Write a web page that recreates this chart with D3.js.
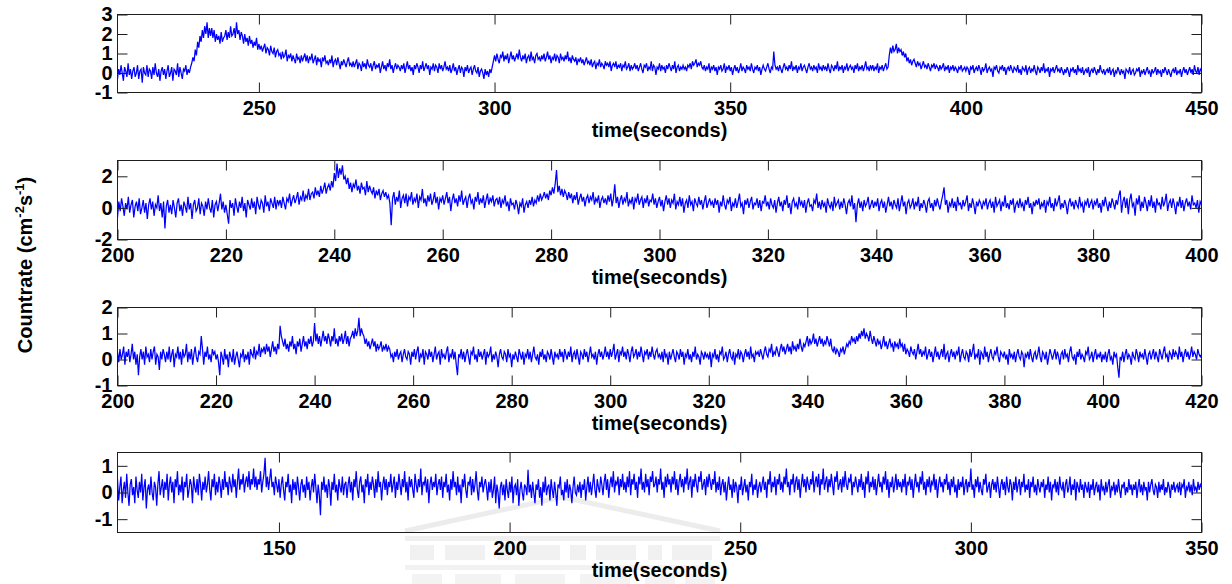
<!DOCTYPE html>
<html>
<head>
<meta charset="utf-8">
<script src="https://cdn.jsdelivr.net/npm/d3@7"></script>
<style>
  html, body { margin: 0; padding: 0; background: #fff; }
  svg { display: block; font-family: "Liberation Sans", Arial, Helvetica, sans-serif; }
</style>
</head>
<body>
<svg id="chart" width="1232" height="584"></svg>
<script>
// ---------- light curves (count rate, cm^-2 s^-1), sampled every 0.25 s ----------

// Event 1: 220 s .. 450 s
const start1 = 220, step1 = 0.25;
const rate1 = [
  -0.3,0.2,-0.1,0.4,0.0,-0.4,0.3,0.1,-0.2,0.5,-0.1,0.2,-0.3,0.1,0.3,-0.2,0.0,0.4,-0.3,0.1,0.2,-0.5,0.3,0.0,-0.1,0.4,-0.2,0.2,0.1,-0.3,0.3,-0.1,0.5,0.0,-0.2,0.2,-0.4,0.1,0.3,-0.1,
  0.2,-0.3,0.1,0.4,-0.2,0.0,0.3,-0.4,0.2,0.1,-0.1,0.5,-0.2,0.3,0.0,-0.3,0.2,0.1,0.4,-0.1,0.2,0.0,0.3,0.5,0.8,0.6,1.2,0.9,1.6,1.3,1.9,1.6,2.2,1.8,2.4,2.0,2.6,1.8,2.3,1.9,
  2.3,1.8,2.2,1.6,2.0,1.7,1.9,1.5,2.1,1.6,1.8,1.9,2.2,1.7,2.1,1.8,2.4,1.9,2.0,2.3,1.8,2.6,2.0,2.2,1.7,2.1,1.9,1.5,2.0,1.6,1.8,1.4,1.9,1.5,1.7,1.3,1.6,1.4,1.8,1.2,
  1.5,1.2,1.4,1.1,1.3,1.5,1.0,1.3,1.2,0.9,1.4,1.1,1.0,1.3,0.8,1.1,1.2,0.9,1.0,0.7,1.1,0.8,0.9,1.2,0.6,0.9,0.8,1.0,0.6,0.9,0.7,0.5,1.0,0.7,0.8,0.5,0.9,0.6,0.8,1.0,
  0.6,0.9,0.5,0.8,0.7,1.0,0.5,0.7,0.9,0.4,0.8,0.6,0.7,0.3,0.8,0.6,0.9,0.5,0.6,0.4,0.7,0.5,0.9,0.3,0.6,0.7,0.4,0.8,0.5,0.2,0.6,0.4,0.7,0.5,0.3,0.6,0.8,0.4,0.5,0.3,
  0.6,0.3,0.5,0.7,0.2,0.5,0.4,0.1,0.6,0.3,0.5,0.2,0.7,0.4,0.3,0.5,0.1,0.4,0.6,0.2,0.4,0.3,0.5,0.0,0.3,0.6,0.2,0.4,0.1,0.5,0.3,0.7,0.2,0.4,0.0,0.3,0.5,0.2,0.4,0.3,
  0.1,0.4,0.2,0.5,0.0,0.3,0.6,0.2,0.4,0.1,0.3,-0.1,0.4,0.2,0.5,0.3,0.0,0.4,0.2,0.6,0.1,0.3,0.5,0.2,0.4,-0.1,0.3,0.2,0.5,0.1,0.4,0.3,0.0,0.5,0.2,0.4,0.1,0.3,0.6,0.2,
  0.3,0.1,0.4,0.0,0.2,0.5,0.1,0.3,-0.1,0.2,0.4,0.0,0.3,0.2,-0.2,0.3,0.1,0.4,0.0,0.2,0.3,-0.1,0.2,0.4,0.1,0.0,0.3,-0.2,0.1,0.2,0.0,-0.3,0.2,-0.1,0.1,-0.2,0.2,0.0,0.3,0.6,
  0.9,0.6,1.0,0.7,0.5,0.9,0.8,1.1,0.6,0.9,0.7,1.0,0.5,0.8,1.1,0.7,0.9,0.6,0.8,1.0,0.7,1.2,0.8,0.6,0.9,0.7,1.0,0.5,0.8,0.9,0.6,1.1,0.7,0.8,0.5,0.9,1.0,0.7,0.8,0.6,
  0.9,0.7,1.0,0.6,0.8,1.1,0.7,0.9,0.5,0.8,0.7,1.0,0.6,0.9,0.8,0.5,1.0,0.7,0.8,0.6,0.9,0.7,1.1,0.6,0.8,0.5,0.9,0.7,0.6,0.8,0.4,0.7,0.6,0.8,0.5,0.7,0.4,0.6,0.8,0.5,
  0.6,0.4,0.7,0.3,0.5,0.6,0.2,0.5,0.4,0.7,0.3,0.5,0.4,0.2,0.6,0.4,0.5,0.3,0.6,0.1,0.4,0.5,0.3,0.6,0.2,0.4,0.3,0.5,0.1,0.4,0.3,0.6,0.2,0.3,0.5,0.1,0.4,0.2,0.3,0.5,
  0.2,0.4,0.1,0.3,0.5,0.2,0.0,0.4,0.3,0.5,0.1,0.3,0.2,0.6,0.1,0.4,0.3,-0.1,0.3,0.2,0.5,0.1,0.4,0.2,0.3,0.0,0.4,0.2,0.5,0.3,0.1,0.4,0.2,0.6,0.0,0.3,0.4,0.1,0.3,0.2,
  0.4,0.2,0.3,0.1,0.4,0.3,0.5,0.2,0.6,0.4,0.5,0.7,0.3,0.5,0.4,0.6,0.3,0.2,0.4,0.1,0.3,0.2,0.5,0.0,0.3,0.2,0.4,0.1,0.3,-0.1,0.3,0.2,0.4,0.1,0.2,0.5,0.0,0.3,0.2,0.4,
  0.1,0.3,-0.1,0.2,0.4,0.1,0.3,0.0,0.2,0.5,0.1,0.3,0.2,0.0,0.4,0.2,0.3,0.1,0.5,0.2,0.0,0.3,0.2,0.4,0.1,0.3,-0.1,0.2,0.4,0.2,0.1,0.3,0.5,0.2,0.0,0.3,0.2,1.1,0.4,0.2,
  0.3,0.1,0.4,0.2,0.0,0.3,0.5,0.2,0.3,0.1,0.4,0.2,0.6,0.1,0.3,0.2,0.4,0.0,0.3,0.2,0.5,0.1,0.3,0.4,0.2,0.0,0.3,0.5,0.2,0.3,0.1,0.4,0.2,0.3,0.0,0.5,0.2,0.3,0.1,0.4,
  0.2,0.3,0.1,0.5,0.2,0.0,0.4,0.3,0.1,0.4,0.2,0.6,0.1,0.3,0.2,0.4,0.0,0.3,0.2,0.5,0.1,0.3,0.4,0.2,0.3,0.0,0.4,0.2,0.5,0.1,0.3,0.2,0.4,0.1,0.3,0.6,0.2,0.3,0.1,0.4,
  0.2,0.4,0.1,0.3,0.2,0.5,0.0,0.3,0.2,0.4,0.1,0.3,0.5,0.2,0.3,0.9,1.3,1.0,1.4,1.1,1.2,1.5,1.0,1.3,1.1,1.2,0.9,1.1,0.8,1.0,0.6,0.8,0.5,0.7,0.4,0.6,0.7,0.5,0.3,0.6,
  0.4,0.5,0.2,0.4,0.6,0.3,0.4,0.2,0.5,0.3,0.1,0.4,0.3,0.5,0.2,0.4,0.3,0.1,0.4,0.2,0.3,0.5,0.1,0.3,0.2,0.4,0.0,0.3,0.2,0.4,0.1,0.3,0.2,0.0,0.3,0.2,0.4,0.1,0.2,0.3,
  0.1,0.3,0.2,-0.1,0.3,0.2,0.4,0.0,0.2,0.3,0.1,0.4,0.2,-0.1,0.3,0.1,0.2,0.5,0.0,0.2,0.3,0.1,0.2,-0.2,0.3,0.2,0.4,0.1,0.0,0.3,0.2,0.4,0.1,0.3,-0.1,0.2,0.3,0.1,0.4,0.2,
  0.0,0.3,0.2,0.1,0.4,0.0,0.2,-0.1,0.3,0.2,0.1,0.4,-0.1,0.2,0.3,0.0,0.2,0.1,0.4,0.1,-0.1,0.3,0.2,0.0,0.3,0.1,0.5,0.0,0.2,0.1,0.3,-0.2,0.2,0.1,0.3,0.0,0.2,0.4,0.1,0.2,
  0.0,0.3,0.1,-0.1,0.2,0.0,0.3,0.1,-0.2,0.2,0.1,0.3,0.0,0.2,-0.1,0.4,0.1,0.2,0.0,0.3,-0.1,0.1,0.2,0.0,0.3,-0.2,0.1,0.2,0.0,0.3,0.1,-0.1,0.2,0.0,0.4,0.1,0.0,0.2,-0.1,0.1,
  0.2,0.0,0.3,-0.1,0.1,0.2,-0.2,0.1,0.0,0.3,0.1,-0.1,0.2,0.0,0.1,-0.3,0.2,0.1,0.0,0.3,-0.1,0.1,0.2,-0.1,0.0,0.2,0.1,0.3,-0.2,0.1,0.0,0.2,-0.1,0.1,0.3,0.0,0.1,-0.2,0.2,0.0,
  0.1,0.3,-0.1,0.2,0.0,0.1,-0.2,0.2,0.0,0.3,0.1,-0.1,0.2,0.0,-0.2,0.1,0.2,0.0,0.3,-0.1,0.1,0.0,0.2,-0.2,0.1,0.3,0.0,0.2,-0.1,0.1,0.3,0.0,0.2,-0.1,0.4,0.1,0.0,0.3,-0.1,0.2,
  0.1
];

// Event 2: 200 s .. 400 s
const start2 = 200, step2 = 0.25;
const rate2 = [
  -0.6,0.4,-0.2,0.6,0.1,-0.5,0.3,-0.1,0.7,-0.3,0.2,0.5,-0.6,0.1,0.4,-0.2,0.6,-0.4,0.0,0.5,-0.3,0.3,-0.7,0.2,0.6,-0.1,0.4,-0.5,0.2,0.0,0.8,-0.2,0.3,-0.6,0.4,-1.3,0.1,0.5,-0.3,0.2,
  -0.4,0.5,0.0,-0.6,0.3,0.6,-0.2,0.2,-0.5,0.4,0.1,-0.3,0.7,-0.1,0.3,-0.7,0.2,0.5,-0.2,0.0,0.6,-0.4,0.3,0.1,-0.5,0.4,-0.1,0.6,0.0,-0.3,0.5,-0.6,0.2,0.4,-0.2,0.3,0.9,-0.1,0.4,-0.3,
  0.2,-0.4,-1.0,0.5,0.0,0.3,-0.5,0.6,0.1,-0.3,0.4,0.0,0.7,-0.2,0.3,-0.6,0.5,0.2,-0.1,0.6,0.0,0.4,-0.4,0.7,0.2,-0.1,0.5,0.3,-0.3,0.8,0.1,0.4,-0.2,0.6,0.3,0.0,0.7,-0.1,0.5,0.2,
  0.5,0.0,0.7,0.3,-0.1,0.6,0.4,0.9,0.1,0.5,0.8,0.3,0.6,1.0,0.2,0.7,0.5,1.1,0.4,0.8,0.6,1.2,0.5,0.9,1.0,0.6,1.3,0.8,1.1,0.7,1.4,0.9,1.2,1.6,0.9,1.3,1.5,1.1,1.7,1.3,
  2.2,1.7,2.8,1.9,2.5,2.1,2.7,1.8,2.0,1.5,1.9,1.2,1.6,1.0,1.5,1.3,1.8,1.1,1.4,0.9,1.6,1.2,1.3,0.8,1.7,1.0,1.4,1.1,0.9,1.3,0.6,1.1,0.8,1.2,0.5,0.9,1.1,0.7,1.0,0.6,
  0.8,0.3,-1.1,0.6,1.0,0.2,0.7,0.4,1.1,0.0,0.6,0.8,0.3,0.9,0.1,0.7,0.5,1.0,0.2,0.6,0.4,0.9,0.0,0.7,0.5,1.2,0.3,0.6,0.1,0.8,0.4,0.9,0.2,0.5,1.0,0.3,0.7,-0.1,0.6,0.4,
  0.8,0.2,0.6,1.0,0.3,0.7,-0.2,0.5,0.9,0.3,0.6,0.1,0.8,0.4,1.1,0.2,0.5,0.7,0.0,0.6,0.9,0.3,0.5,-0.1,0.7,0.4,1.0,0.2,0.6,0.3,0.8,0.0,0.5,0.9,0.2,0.6,0.4,0.8,0.1,0.5,
  0.6,0.2,0.7,0.0,0.5,0.3,0.8,0.1,0.4,-0.2,0.6,0.2,0.3,-0.1,0.5,0.2,-0.4,0.3,0.1,0.6,-0.3,0.2,0.4,0.0,0.5,0.2,0.7,0.1,0.5,0.3,0.8,0.4,0.9,0.5,0.7,1.0,0.6,0.9,0.5,1.1,
  0.8,1.3,0.9,1.5,2.4,1.0,1.4,0.8,1.2,0.7,1.1,0.9,0.5,1.0,0.6,0.9,0.3,0.8,0.5,1.0,0.2,0.6,0.9,0.4,0.7,0.1,0.6,0.8,0.3,0.7,0.5,1.0,0.2,0.6,0.4,0.8,0.0,0.5,0.7,0.3,
  0.6,0.2,0.8,0.4,0.9,0.1,0.6,1.5,0.3,0.7,0.0,0.5,0.8,0.2,0.6,0.4,1.0,0.1,0.5,0.3,0.7,-0.1,0.6,0.4,0.9,0.2,0.5,0.7,0.0,0.6,0.3,0.8,0.1,0.5,0.4,0.9,0.2,0.6,0.0,0.4,
  0.7,0.1,0.5,-0.2,0.4,0.8,0.2,0.6,0.0,0.5,0.3,0.9,-0.1,0.4,0.2,0.7,0.1,0.6,-0.3,0.3,0.5,0.0,0.8,0.2,0.4,-0.2,0.6,0.3,0.1,0.7,0.2,0.5,-0.1,0.4,0.8,0.0,0.3,0.6,0.2,0.4,
  0.0,0.6,0.2,0.5,-0.3,0.4,0.1,0.8,0.2,-0.1,0.5,0.3,0.7,-0.2,0.3,0.1,0.6,0.0,0.4,0.9,0.1,0.3,-0.4,0.5,0.2,0.6,0.0,0.4,0.7,-0.1,0.3,0.2,0.6,0.0,0.5,-0.2,0.4,0.3,0.8,0.1,
  0.4,-0.1,0.6,0.2,0.0,0.5,-0.3,0.3,0.7,0.1,0.4,-0.2,0.5,0.2,0.8,0.0,0.3,-0.4,0.4,0.6,0.1,0.3,-0.1,0.7,0.2,0.4,0.0,0.5,-0.3,0.3,0.6,0.1,0.2,-0.2,0.5,0.3,0.9,0.0,0.4,-0.1,
  0.5,0.1,0.3,-0.3,0.6,0.2,0.0,0.4,-0.2,0.7,0.1,0.3,0.5,-0.1,0.4,0.0,0.6,0.2,-0.4,0.3,0.5,0.1,0.8,-0.1,0.3,-0.9,0.2,0.6,0.0,0.4,-0.2,0.5,0.1,0.3,0.7,-0.1,0.2,0.5,0.0,0.4,
  0.1,0.6,-0.2,0.3,0.5,0.0,0.4,-0.3,0.2,0.7,0.1,0.4,-0.1,0.5,0.2,0.0,0.6,-0.2,0.3,0.8,0.1,0.4,-0.4,0.3,0.5,0.0,0.2,0.6,-0.1,0.4,0.1,0.7,-0.2,0.3,0.0,0.5,0.2,-0.3,0.4,0.6,
  0.0,0.3,-0.2,0.5,0.1,0.6,0.2,-0.1,0.4,0.8,1.3,0.2,0.5,-0.3,0.3,0.1,0.6,0.0,0.4,-0.2,0.7,0.2,0.3,-0.1,0.5,0.1,0.4,0.8,-0.2,0.3,0.0,0.6,0.2,-0.4,0.4,0.1,0.5,0.3,-0.1,0.4,
  0.2,0.6,-0.1,0.3,0.5,0.0,0.4,-0.3,0.7,0.1,0.3,0.5,-0.2,0.4,0.1,0.8,0.0,0.3,-0.1,0.5,0.2,0.6,-0.3,0.2,0.4,0.0,0.6,0.1,0.3,-0.2,0.5,0.2,0.7,0.0,0.3,-0.4,0.4,0.1,0.5,0.2,
  0.6,-0.1,0.3,0.1,0.5,-0.3,0.4,0.2,0.7,0.0,0.3,-0.2,0.6,0.1,0.4,0.8,-0.1,0.3,0.0,0.5,0.2,-0.4,0.3,0.6,0.1,0.4,-0.1,0.5,0.2,0.0,0.7,0.1,0.3,-0.3,0.4,0.2,0.6,0.0,0.3,0.5,
  -0.1,0.4,0.2,0.6,0.0,0.3,-0.3,0.5,0.1,0.7,0.2,-0.2,0.4,0.0,0.6,0.3,-0.1,0.5,0.2,0.8,1.1,-0.3,0.4,0.7,0.0,0.6,-0.4,0.5,0.9,0.1,0.3,-0.5,0.6,0.2,0.8,-0.2,0.4,0.0,0.7,0.3,
  -0.2,0.5,0.1,0.8,0.0,0.4,-0.3,0.6,0.2,0.3,-0.1,0.7,0.1,0.4,0.9,-0.2,0.3,0.5,0.0,0.6,0.2,-0.4,0.4,0.1,0.7,0.0,0.5,-0.2,0.3,0.6,0.1,0.4,-0.1,0.8,0.2,0.3,0.0,0.5,-0.3,0.4,
  0.2
];

// Event 3: 200 s .. 420 s
const start3 = 200, step3 = 0.25;
const rate3 = [
  0.3,-0.1,0.4,0.0,0.2,0.5,-0.2,0.3,0.1,0.4,-0.1,0.2,0.6,0.0,0.3,-0.2,0.2,-0.6,0.1,0.4,0.0,0.3,-0.2,0.5,0.1,0.2,-0.1,0.4,0.0,0.3,0.5,-0.2,0.2,0.1,-0.4,0.3,0.0,0.4,0.2,-0.1,
  0.3,0.0,0.5,-0.1,0.2,0.4,-0.3,0.2,0.1,0.5,0.0,0.3,-0.2,0.4,0.1,0.2,0.6,-0.1,0.3,0.0,0.4,-0.2,0.2,0.5,0.1,-0.1,0.3,0.2,0.9,0.4,-0.2,0.3,0.1,0.5,0.0,0.2,-0.1,0.4,0.2,0.3,
  0.0,0.2,-0.1,-0.6,0.3,0.1,-0.2,0.4,0.0,0.2,-0.3,0.3,0.1,-0.1,0.4,-0.2,0.1,0.3,0.0,-0.3,0.2,0.1,0.4,-0.1,0.2,0.0,0.3,-0.2,0.4,0.2,0.1,0.5,0.0,0.3,0.2,0.6,0.1,0.4,0.3,0.5,
  0.2,0.6,0.3,0.5,0.1,0.4,0.7,0.3,0.5,0.2,0.6,0.4,1.3,0.9,0.7,0.5,0.8,0.4,0.6,0.3,0.7,0.5,0.9,0.4,0.6,0.2,0.7,0.5,0.8,0.3,0.6,0.9,0.5,0.7,0.4,0.8,0.6,0.9,0.5,0.7,
  1.4,0.7,1.0,0.6,0.9,0.5,0.8,1.1,0.7,0.9,0.6,1.0,0.8,0.5,0.9,0.7,1.2,0.6,0.8,0.5,0.9,0.7,1.0,0.6,0.8,1.1,0.6,0.9,0.5,0.8,0.9,1.1,0.8,1.2,0.9,1.1,1.6,0.9,1.2,1.0,
  0.9,0.6,0.8,0.5,0.7,0.4,0.6,0.8,0.5,0.7,0.3,0.6,0.4,0.5,0.7,0.3,0.5,0.4,0.6,0.3,0.5,0.4,0.1,0.2,-0.1,0.3,0.1,0.4,0.0,0.2,0.3,-0.1,0.2,0.4,0.1,0.0,0.3,0.2,-0.2,0.3,
  0.1,0.4,0.0,0.3,0.5,-0.1,0.2,0.1,0.4,-0.2,0.3,0.2,0.0,0.4,0.1,0.3,-0.1,0.2,0.5,0.0,0.2,0.3,-0.2,0.4,0.1,0.2,0.0,0.3,0.5,-0.1,0.2,0.1,0.4,0.0,0.3,-0.2,-0.6,0.2,0.1,0.4,
  0.0,0.3,-0.1,0.2,0.4,0.1,-0.2,0.3,0.2,0.5,0.0,0.2,-0.1,0.4,0.1,0.3,0.0,0.2,0.4,-0.2,0.3,0.1,0.2,0.5,-0.1,0.2,0.0,0.3,0.1,-0.3,0.2,0.4,0.1,0.0,0.3,0.2,-0.1,0.4,0.1,0.2,
  -0.3,0.2,0.0,0.3,0.1,-0.1,0.4,0.2,0.0,0.3,-0.2,0.2,0.1,0.4,0.0,0.3,-0.1,0.2,0.5,0.1,0.0,0.2,-0.2,0.3,0.1,0.4,0.0,0.2,-0.1,0.3,0.2,0.0,0.4,0.1,-0.2,0.3,0.1,0.2,0.0,0.4,
  0.1,0.3,-0.1,0.4,0.2,0.0,0.3,0.1,0.5,-0.1,0.2,0.3,0.0,0.4,0.1,-0.2,0.3,0.2,0.0,0.4,0.1,0.3,-0.1,0.2,0.5,0.1,0.2,0.0,0.3,-0.2,0.2,0.4,0.1,0.3,0.0,0.2,0.5,0.1,0.3,0.0,
  0.4,0.1,0.3,0.6,0.0,0.2,0.4,-0.1,0.3,0.2,0.5,0.1,0.3,0.0,0.4,0.2,-0.1,0.3,0.5,0.1,0.2,0.4,0.0,0.3,0.1,0.5,0.2,-0.1,0.3,0.2,0.4,0.0,0.3,0.1,0.5,0.2,0.0,0.3,0.4,0.1,
  0.2,0.0,0.3,-0.1,0.4,0.1,0.2,-0.2,0.3,0.0,0.2,0.4,0.1,-0.1,0.3,0.2,0.0,0.4,0.1,0.3,-0.2,0.2,0.1,0.4,0.0,0.2,-0.1,0.3,0.1,0.5,0.0,0.2,0.1,-0.2,0.3,0.2,0.0,0.3,0.1,0.2,
  0.0,0.3,-0.3,0.2,0.1,0.4,0.0,0.2,-0.1,0.3,0.2,0.5,0.0,0.1,0.3,-0.1,0.2,0.4,0.1,0.0,0.3,-0.2,0.2,0.1,0.4,0.0,0.3,0.2,-0.1,0.2,0.4,0.1,0.3,0.0,0.5,0.1,0.2,-0.1,0.3,0.2,
  0.3,0.1,0.4,0.2,0.0,0.3,0.5,0.2,0.1,0.4,0.3,0.6,0.1,0.3,0.2,0.5,0.3,0.1,0.4,0.6,0.3,0.5,0.2,0.4,0.6,0.3,0.5,0.2,0.7,0.4,0.5,0.3,0.6,0.4,0.8,0.5,0.3,0.6,0.5,0.7,
  0.9,0.5,0.8,0.6,0.7,1.0,0.6,0.8,0.5,0.7,0.9,0.6,0.8,0.5,0.7,0.6,0.9,0.7,0.5,0.8,0.4,0.3,0.5,0.2,0.4,0.3,0.1,0.4,0.3,0.5,0.2,0.4,0.6,0.5,0.7,0.6,0.9,0.7,0.8,0.6,
  0.9,0.7,1.0,0.8,1.1,0.9,1.2,0.8,1.0,0.9,0.7,1.1,0.8,0.6,0.9,0.7,0.5,0.8,0.6,0.7,0.4,0.6,0.9,0.5,0.7,0.4,0.6,0.8,0.5,0.6,0.3,0.7,0.5,0.6,0.4,0.8,0.5,0.6,0.3,0.6,
  0.2,0.4,0.3,0.1,0.5,0.3,0.2,0.4,0.0,0.3,0.6,0.2,0.4,0.1,0.3,0.2,0.5,0.0,0.2,0.4,0.1,0.3,-0.1,0.2,0.5,0.1,0.3,0.0,0.2,0.4,0.1,0.6,0.0,0.2,0.3,-0.1,0.2,0.4,0.1,0.3,
  0.0,0.3,0.2,0.5,-0.1,0.2,0.4,0.1,0.0,0.3,0.2,-0.1,0.4,0.1,0.3,0.6,0.0,0.2,0.1,0.4,-0.2,0.3,0.2,0.0,0.5,0.1,0.3,-0.1,0.2,0.4,0.1,0.0,0.3,0.2,0.5,0.1,-0.1,0.3,0.2,0.1,
  0.3,0.0,0.2,-0.2,0.4,0.1,0.2,0.0,0.3,-0.1,0.2,0.4,0.1,0.0,0.3,0.2,-0.3,0.2,0.1,0.3,0.0,0.4,0.1,-0.1,0.2,0.3,0.0,0.2,0.5,0.1,-0.1,0.3,0.2,0.0,0.3,-0.2,0.1,0.4,0.2,0.0,
  0.2,0.4,0.0,0.3,0.1,-0.2,0.2,0.3,0.0,0.4,0.1,0.2,-0.1,0.3,0.5,0.1,0.0,0.2,-0.2,0.3,0.1,0.4,0.0,0.2,0.1,-0.1,0.3,0.2,0.5,0.0,0.1,0.3,-0.1,0.2,0.4,0.0,0.2,0.1,0.3,-0.1,
  0.2,0.0,0.3,-0.1,0.2,0.4,0.0,0.1,-0.2,0.3,0.1,0.2,-0.3,-0.7,0.1,0.0,0.3,-0.1,0.2,0.4,0.0,0.2,0.1,-0.2,0.3,0.1,0.0,0.4,0.2,-0.1,0.3,0.1,0.2,0.0,0.4,0.1,-0.2,0.2,0.3,0.0,
  0.2,0.4,0.0,0.3,0.1,-0.1,0.4,0.2,0.0,0.3,0.5,0.1,0.2,-0.1,0.3,0.2,0.0,0.4,0.1,0.3,0.2,0.0,0.5,0.1,0.3,-0.1,0.2,0.4,0.1,0.3,0.0,0.2,0.5,0.1,0.3,0.2,0.0,0.4,0.2,0.1,
  0.2
];

// Event 4: 115 s .. 350 s
const start4 = 115, step4 = 0.25;
const rate4 = [
  0.5,-0.3,0.2,0.6,-0.4,0.1,0.4,-0.2,0.7,0.0,-0.5,0.3,0.5,-0.1,0.2,-0.4,0.6,0.1,-0.2,0.4,0.0,0.7,-0.3,0.2,0.5,-0.6,0.1,0.3,-0.1,0.6,0.0,-0.3,0.4,0.2,-0.5,0.3,0.8,-0.1,0.2,0.5,
  -0.2,0.4,0.1,0.7,-0.3,0.3,0.6,0.0,0.4,-0.4,0.5,0.2,0.8,-0.1,0.3,0.0,0.6,-0.3,0.4,0.2,0.7,-0.2,0.1,0.5,0.3,-0.4,0.6,0.2,0.0,0.5,-0.1,0.7,0.3,-0.3,0.4,0.1,0.6,0.0,0.3,0.8,
  0.1,-0.3,0.5,0.2,0.7,-0.1,0.4,0.0,0.6,0.3,-0.2,0.5,0.1,0.8,0.2,0.4,-0.1,0.6,0.3,0.0,0.7,0.2,0.5,-0.2,0.4,0.9,0.1,0.5,0.3,0.7,0.0,0.4,0.6,0.2,0.8,0.1,0.5,0.3,0.9,0.2,
  0.6,0.1,0.5,0.3,0.8,0.0,0.4,0.7,1.3,0.2,0.6,0.1,0.5,0.9,0.2,0.4,-0.1,0.6,0.3,0.0,0.5,-0.2,0.3,0.6,0.1,-0.3,0.4,0.2,0.7,0.0,0.3,-0.4,0.5,0.1,0.4,-0.1,0.6,0.2,-0.3,0.3,
  0.5,0.0,0.3,-0.2,0.6,0.1,0.4,-0.3,0.2,0.5,0.0,0.7,0.2,-0.4,0.3,-0.1,-0.85,0.4,0.1,0.6,0.0,0.3,-0.2,0.5,0.2,-0.5,0.4,0.1,0.7,0.0,0.3,-0.3,0.5,0.2,0.0,0.6,-0.1,0.3,0.4,-0.2,
  0.3,0.6,0.0,0.4,-0.3,0.5,0.2,0.8,0.1,-0.2,0.4,0.6,0.0,0.3,-0.4,0.5,0.2,0.7,-0.1,0.4,0.1,0.6,0.3,-0.2,0.5,0.0,0.8,0.2,0.4,-0.3,0.3,0.6,0.1,0.5,-0.1,0.4,0.2,0.7,0.0,0.3,
  0.6,-0.2,0.4,0.1,0.7,0.3,-0.1,0.5,0.2,0.8,0.0,0.4,-0.3,0.6,0.2,0.5,0.1,-0.2,0.7,0.3,0.0,0.5,0.2,0.9,-0.1,0.4,0.3,0.6,0.0,0.5,-0.4,0.3,0.6,0.1,0.4,0.2,0.7,-0.1,0.3,0.5,
  0.1,0.6,-0.2,0.4,0.2,0.7,0.0,0.3,-0.3,0.5,0.1,0.8,0.2,0.4,-0.1,0.6,0.0,0.3,-0.4,0.5,0.2,0.7,0.1,-0.2,0.4,0.3,0.6,-0.1,0.5,0.0,0.3,0.8,0.1,-0.3,0.4,0.2,0.6,0.0,0.3,0.5,
  0.2,-0.3,0.4,0.0,0.5,-0.2,0.1,0.6,-0.4,0.3,0.0,-0.6,0.2,0.4,-0.1,0.3,-0.3,0.5,0.1,-0.2,0.4,0.0,0.6,-0.4,0.2,0.3,-0.1,0.5,-0.5,0.1,0.4,0.0,-0.3,0.3,0.2,-0.1,0.85,0.0,0.3,-0.2,
  0.4,0.0,-0.4,0.3,0.1,0.5,-0.2,0.2,-0.5,0.4,0.0,0.6,-0.1,0.2,0.3,-0.3,0.5,0.1,-0.2,0.4,0.0,-0.5,0.3,0.2,0.6,-0.1,0.1,-0.3,0.4,0.0,0.5,-0.2,0.3,0.1,-0.4,0.2,0.6,0.0,-0.1,0.3,
  0.0,0.4,-0.2,0.3,0.1,0.5,-0.3,0.2,0.6,0.0,0.4,-0.1,0.3,0.7,0.1,-0.2,0.5,0.2,0.0,0.6,0.3,-0.1,0.4,0.7,0.1,0.5,-0.2,0.3,0.6,0.2,0.8,0.0,0.4,0.3,0.6,-0.1,0.5,0.2,0.7,0.1,
  0.4,0.0,0.6,0.2,0.8,-0.1,0.5,0.3,0.7,0.1,0.4,-0.2,0.6,0.3,0.9,0.1,0.4,0.0,0.7,0.2,0.5,-0.1,0.6,0.4,0.8,0.2,0.3,0.6,0.0,0.5,0.3,0.9,0.1,0.4,-0.2,0.6,0.2,0.7,0.3,0.5,
  0.0,0.6,0.3,0.8,0.1,0.5,-0.1,0.4,0.7,0.2,0.5,0.0,0.6,0.3,0.9,0.1,0.4,0.6,-0.2,0.5,0.2,0.7,0.3,0.0,0.6,0.4,0.8,0.1,0.3,0.5,-0.1,0.6,0.2,0.7,0.4,0.1,0.5,0.3,0.8,0.0,
  0.4,0.1,0.6,-0.1,0.3,0.5,0.0,0.4,-0.3,0.2,0.6,0.1,0.3,-0.2,0.5,0.0,0.4,0.2,-0.4,0.3,0.1,0.6,-0.1,0.2,0.5,0.0,0.3,-0.3,0.4,0.2,0.7,-0.1,0.3,0.1,0.5,-0.2,0.2,0.4,0.0,0.3,
  0.6,0.1,0.4,-0.2,0.5,0.3,0.8,0.0,0.4,0.2,0.6,-0.1,0.5,0.3,0.7,0.1,0.4,0.0,0.6,0.3,0.9,0.2,0.4,-0.1,0.5,0.3,0.7,0.0,0.4,0.6,0.1,0.5,-0.2,0.3,0.7,0.2,0.5,0.0,0.6,0.3,
  0.1,0.5,0.3,0.8,0.0,0.4,0.6,0.2,0.7,-0.1,0.5,0.3,0.9,0.1,0.4,0.6,0.0,0.5,0.2,0.7,0.3,-0.1,0.6,0.4,0.8,0.1,0.3,0.5,0.0,0.6,0.2,0.8,0.3,0.1,0.5,0.4,0.7,-0.1,0.4,0.2,
  0.6,0.3,0.0,0.5,0.2,0.7,0.1,0.4,-0.2,0.6,0.3,0.8,0.0,0.4,0.2,0.6,0.1,0.5,-0.1,0.3,0.7,0.2,0.4,0.0,0.6,0.3,0.8,0.1,0.5,-0.2,0.4,0.2,0.6,0.0,0.3,0.7,0.1,0.5,0.2,0.4,
  0.0,0.5,0.2,0.7,-0.1,0.4,0.3,0.6,0.1,0.5,-0.2,0.3,0.7,0.2,0.4,0.0,0.6,0.3,0.8,0.1,0.4,-0.1,0.5,0.2,0.6,0.0,0.4,0.3,0.7,0.1,0.5,-0.2,0.3,0.6,0.2,0.4,0.0,0.5,0.3,0.7,
  0.1,0.4,-0.1,0.5,0.2,0.6,0.0,0.3,-0.2,0.5,0.1,0.4,0.2,0.6,-0.1,0.3,0.5,0.0,0.4,0.2,0.9,0.1,0.3,-0.2,0.5,0.2,0.6,0.0,0.4,0.1,-0.1,0.5,0.3,0.7,0.0,0.2,0.4,-0.2,0.3,0.5,
  0.1,0.4,0.0,0.6,0.2,-0.2,0.3,0.5,0.1,0.4,-0.1,0.6,0.2,0.0,0.5,0.3,-0.3,0.4,0.1,0.6,0.0,0.3,0.5,-0.1,0.4,0.2,0.7,0.0,0.3,0.1,0.5,-0.2,0.4,0.2,0.6,0.0,0.3,-0.1,0.5,0.2,
  0.0,0.4,0.2,0.5,-0.2,0.3,0.1,0.6,0.0,0.4,-0.3,0.3,0.2,0.5,0.0,0.4,-0.1,0.6,0.2,0.1,0.4,-0.2,0.3,0.5,0.0,0.2,0.6,-0.1,0.3,0.1,0.5,-0.3,0.4,0.2,0.0,0.5,0.1,0.3,-0.2,0.4,
  0.2,0.0,0.4,-0.2,0.3,0.1,0.5,-0.1,0.2,0.4,0.0,0.3,-0.3,0.5,0.1,0.2,-0.1,0.4,0.0,0.3,0.5,-0.2,0.2,0.1,0.4,-0.1,0.3,0.0,0.5,0.1,-0.2,0.3,0.2,0.4,-0.1,0.2,0.0,0.5,0.1,0.3,
  -0.1,0.3,0.1,0.4,-0.2,0.2,0.5,0.0,0.3,-0.1,0.4,0.1,0.2,-0.3,0.4,0.0,0.3,0.5,0.1,-0.1,0.3,0.2,-0.2,0.4,0.0,0.3,0.1,0.5,-0.1,0.2,0.0,0.4,0.2,-0.2,0.3,0.1,0.4,0.0,0.2,0.3,
  0.0,0.4,-0.1,0.3,0.2,0.5,-0.2,0.2,0.1,0.4,0.0,0.3,-0.1,0.5,0.1,0.2,0.0,0.4,0.1,0.3,
  0.2
];

// ---------- axis ranges and ticks ----------
const xDomain1 = [220, 450], yDomain1 = [-1, 3];
const xDomain2 = [200, 400], yDomain2 = [-2, 3];
const xDomain3 = [200, 420], yDomain3 = [-1, 2];
const xDomain4 = [115, 350], yDomain4 = [-1.5, 1.5];

const xTicks1 = [250, 300, 350, 400, 450];
const xTicks2 = [200, 220, 240, 260, 280, 300, 320, 340, 360, 380, 400];
const xTicks3 = [200, 220, 240, 260, 280, 300, 320, 340, 360, 380, 400, 420];
const xTicks4 = [150, 200, 250, 300, 350];

const yTicks1 = [-1, 0, 1, 2, 3];
const yTicks2 = [-2, 0, 2];
const yTicks3 = [-1, 0, 1, 2];
const yTicks4 = [-1, 0, 1];

const xTitle = "time(seconds)";

// ---------- layout ----------
const svg = d3.select("#chart");
const plotLeft = 117, plotRight = 1201;
const plotW = plotRight - plotLeft;
const frames = [
  { top: 14,  h: 78 },
  { top: 160, h: 79 },
  { top: 307, h: 78 },
  { top: 452, h: 80 }
];
const FONT = '"Liberation Sans", Arial, Helvetica, sans-serif';
const INK = "#1e1e1e";

// faint crest in the page background
const crest = svg.append("g").attr("class", "crest").attr("opacity", 0.45);
crest.append("path")
  .attr("d", "M405,531 L562,497 L720,531")
  .attr("fill", "none").attr("stroke", "#d6d6d6").attr("stroke-width", 5);
crest.append("rect").attr("x", 405).attr("y", 536).attr("width", 315).attr("height", 5).attr("fill", "#dedede");
[[410, 24], [445, 40], [497, 14], [522, 38], [570, 16], [596, 40], [648, 14], [672, 40]].forEach(([x0, w0]) => {
  crest.append("rect").attr("x", x0).attr("y", 545).attr("width", w0).attr("height", 15).attr("fill", "#e2e2e2");
});
crest.append("rect").attr("x", 405).attr("y", 565).attr("width", 315).attr("height", 5).attr("fill", "#e4e4e4");
[[412, 30], [455, 46], [515, 50], [580, 50], [645, 30], [685, 30]].forEach(([x0, w0]) => {
  crest.append("rect").attr("x", x0).attr("y", 574).attr("width", w0).attr("height", 10).attr("fill", "#e6e6e6");
});

const panels = [
  { start: start1, step: step1, values: rate1, xDom: xDomain1, yDom: yDomain1, xTicks: xTicks1, yTicks: yTicks1 },
  { start: start2, step: step2, values: rate2, xDom: xDomain2, yDom: yDomain2, xTicks: xTicks2, yTicks: yTicks2 },
  { start: start3, step: step3, values: rate3, xDom: xDomain3, yDom: yDomain3, xTicks: xTicks3, yTicks: yTicks3 },
  { start: start4, step: step4, values: rate4, xDom: xDomain4, yDom: yDomain4, xTicks: xTicks4, yTicks: yTicks4 }
];

const label = d => String(d);

panels.forEach((p, i) => {
  const f = frames[i];
  const g = svg.append("g").attr("transform", `translate(${plotLeft + 0.5},${f.top + 0.5})`);
  const x = d3.scaleLinear().domain(p.xDom).range([0, plotW]);
  const y = d3.scaleLinear().domain(p.yDom).range([f.h, 0]);

  g.append("clipPath").attr("id", "clip" + i)
    .append("rect").attr("width", plotW).attr("height", f.h);

  const pts = p.values.map((v, k) => ({ t: p.start + k * p.step, v }));
  g.append("path")
    .datum(pts)
    .attr("clip-path", `url(#clip${i})`)
    .attr("fill", "none")
    .attr("stroke", "#0000ff")
    .attr("stroke-width", 1.25)
    .attr("d", d3.line().x(d => x(d.t)).y(d => y(d.v)));

  const axes = [
    g.append("g").attr("transform", `translate(0,${f.h})`)
      .call(d3.axisBottom(x).tickValues(p.xTicks).tickSize(-10).tickPadding(8).tickFormat(label)),
    g.append("g")
      .call(d3.axisTop(x).tickValues(p.xTicks).tickSize(-10).tickFormat("")),
    g.append("g")
      .call(d3.axisLeft(y).tickValues(p.yTicks).tickSize(-10).tickPadding(5).tickFormat(label)),
    g.append("g").attr("transform", `translate(${plotW},0)`)
      .call(d3.axisRight(y).tickValues(p.yTicks).tickSize(-10).tickFormat(""))
  ];
  axes.forEach(a => {
    a.select(".domain").remove();
    a.attr("font-family", FONT).attr("font-size", 20);
    a.selectAll("line").attr("stroke", INK);
    a.selectAll("text").attr("fill", "#000").attr("font-weight", "bold");
  });

  g.append("rect")
    .attr("width", plotW).attr("height", f.h)
    .attr("fill", "none").attr("stroke", INK).attr("stroke-width", 1);

  g.append("text")
    .attr("x", plotW / 2).attr("y", f.h + 44)
    .attr("text-anchor", "middle")
    .attr("font-family", FONT).attr("font-size", 20).attr("font-weight", "bold")
    .attr("fill", "#000")
    .text(xTitle);
});

// shared y-axis title
const yTitle = svg.append("text")
  .attr("transform", "translate(32,265) rotate(-90)")
  .attr("text-anchor", "middle")
  .attr("font-family", FONT).attr("font-size", 20).attr("font-weight", "bold")
  .attr("fill", "#000");
yTitle.append("tspan").text("Countrate (cm");
yTitle.append("tspan").attr("dy", -8).attr("font-size", 13).text("-2");
yTitle.append("tspan").attr("dy", 8).text("s");
yTitle.append("tspan").attr("dy", -8).attr("font-size", 13).text("-1");
yTitle.append("tspan").attr("dy", 8).text(")");
</script>
</body>
</html>
